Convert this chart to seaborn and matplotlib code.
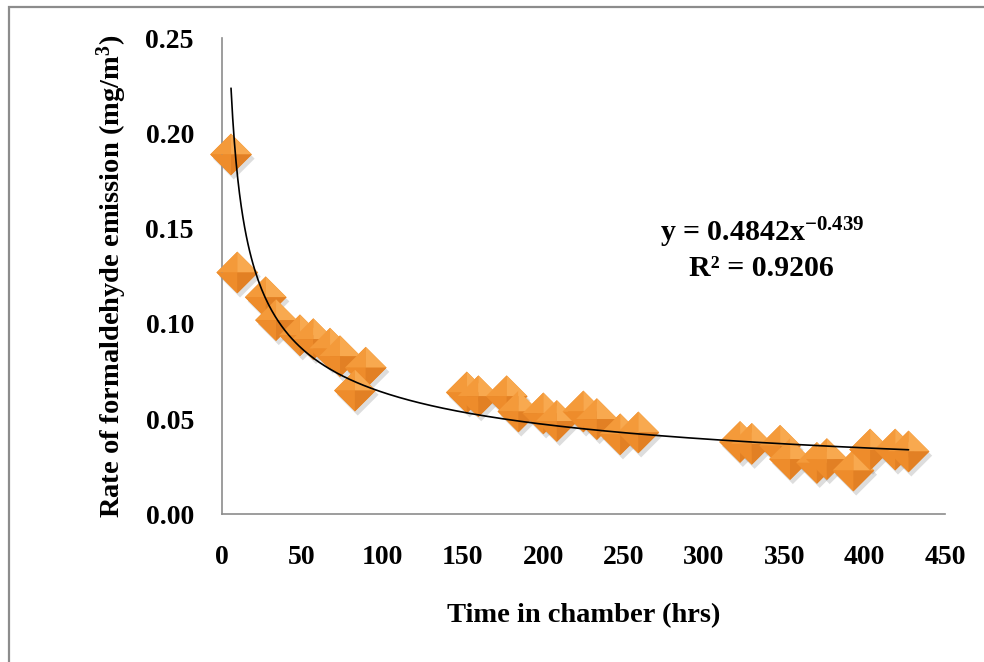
import numpy as np
import pandas as pd
import matplotlib
matplotlib.use("Agg")
import matplotlib.pyplot as plt
import matplotlib.patheffects as pe
from matplotlib.path import Path
from matplotlib.patches import Rectangle
import seaborn as sns

# Emission measurements: time in chamber (hrs) and emission rate (mg/m3)
time_hrs = [5.8, 9.7, 27.4, 33.8, 48.7, 57.0, 67.4, 73.6, 89.6, 82.9,
            152.5, 159.7, 177.3, 184.6, 200.1, 208.5, 225.0, 233.4, 247.9, 259.2,
            322.5, 329.8, 347.4, 353.6, 370.3, 376.5, 393.0, 403.4, 419.0, 427.3]
emission = [0.189, 0.127, 0.114, 0.102, 0.094, 0.092, 0.087, 0.083, 0.077, 0.065,
            0.064, 0.062, 0.062, 0.054, 0.053, 0.049, 0.054, 0.050, 0.042, 0.043,
            0.038, 0.037, 0.036, 0.029, 0.027, 0.029, 0.023, 0.034, 0.034, 0.033]

# Power-law trend line coefficients
fit_a = 0.4842
fit_b = -0.439
fit_r2 = 0.9206

x_ticks = [0, 50, 100, 150, 200, 250, 300, 350, 400, 450]
y_ticks = [0.00, 0.05, 0.10, 0.15, 0.20, 0.25]

df = pd.DataFrame({"time": time_hrs, "rate": emission})

sns.set_theme(style="white")
plt.rcParams["font.family"] = ["Liberation Serif", "DejaVu Serif"]
plt.rcParams["font.weight"] = "bold"
plt.rcParams["mathtext.fontset"] = "custom"
plt.rcParams["mathtext.rm"] = "Liberation Serif"
plt.rcParams["mathtext.bf"] = "Liberation Serif:bold"
plt.rcParams["mathtext.default"] = "rm"

fig = plt.figure(figsize=(9.84, 6.62), dpi=100)
ax = fig.add_axes([0.2253, 0.2231, 0.9604 - 0.2253, 0.9421 - 0.2231])

# Chart frame
fig.patches.append(Rectangle((9 / 984, -0.05), 1.2, 1 - 7 / 662 + 0.05,
                             transform=fig.transFigure, fill=False,
                             edgecolor="#8c8c8c", linewidth=1.6, zorder=0))

# Diamond marker and its four bevel facets
diamond = Path([(0, 1), (1, 0), (0, -1), (-1, 0), (0, 1)],
               [Path.MOVETO, Path.LINETO, Path.LINETO, Path.LINETO, Path.CLOSEPOLY])
def facet(p1, p2):
    return Path([(0, 0), p1, p2, (0, 0)],
                [Path.MOVETO, Path.LINETO, Path.LINETO, Path.CLOSEPOLY])
facets = [
    (facet((-1, 0), (0, 1)), "#f49a3a"),   # top-left
    (facet((0, 1), (1, 0)), "#f8a94f"),    # top-right
    (facet((-1, 0), (0, -1)), "#ee8c2b"),  # bottom-left
    (facet((0, -1), (1, 0)), "#e28024"),   # bottom-right
]
msize = 900

sns.scatterplot(data=df, x="time", y="rate", marker=diamond, s=msize,
                color="#ec8a28", edgecolor="none", linewidth=0, ax=ax,
                zorder=2, legend=False, clip_on=False,
                path_effects=[pe.SimplePatchShadow(offset=(2, -3), shadow_rgbFace="#666666", alpha=0.22),
                              pe.Normal()])

for i, (xv, yv) in enumerate(zip(time_hrs, emission)):
    for path, col in facets:
        ax.scatter([xv], [yv], marker=path, s=msize, color=col, clip_on=False,
                   edgecolor="none", linewidth=0, zorder=3 + i * 0.01)

# Power trend line
xs = np.linspace(min(time_hrs), max(time_hrs), 400)
sns.lineplot(x=xs, y=fit_a * xs ** fit_b, color="black", linewidth=1.2,
             ax=ax, zorder=5)

ax.text(336, 0.148, "y = 0.4842x$^{-0.439}$", ha="center", va="center",
        fontsize=21.5, fontweight="bold", color="black")
ax.text(336, 0.129, f"R² = {fit_r2:.4f}", ha="center", va="center",
        fontsize=21.5, fontweight="bold", color="black")

ax.set_xlim(0, 450)
ax.set_ylim(0, 0.25)
ax.set_xticks(x_ticks)
ax.set_yticks(y_ticks)
ax.set_xticklabels([str(v) for v in x_ticks])
ax.set_yticklabels([f"{v:.2f}" for v in y_ticks])
ax.tick_params(axis="both", length=0, labelsize=20, colors="black")
ax.tick_params(axis="y", pad=20)
ax.tick_params(axis="x", pad=22)
for lbl in ax.get_xticklabels() + ax.get_yticklabels():
    lbl.set_fontweight("bold")

ax.set_xlabel("Time in chamber (hrs)", fontsize=20.5, fontweight="bold",
              labelpad=24, color="black")
ax.set_ylabel(r"Rate of formaldehyde emission (mg/m$^{\mathbf{3}}$)",
              fontsize=20.5, fontweight="bold", labelpad=12, color="black")

for side in ["top", "right"]:
    ax.spines[side].set_visible(False)
for side in ["left", "bottom"]:
    ax.spines[side].set_color("#8c8c8c")
    ax.spines[side].set_linewidth(1.2)
ax.grid(False)
ax.set_facecolor("white")

fig.savefig("out.png", dpi=100, facecolor="white")
